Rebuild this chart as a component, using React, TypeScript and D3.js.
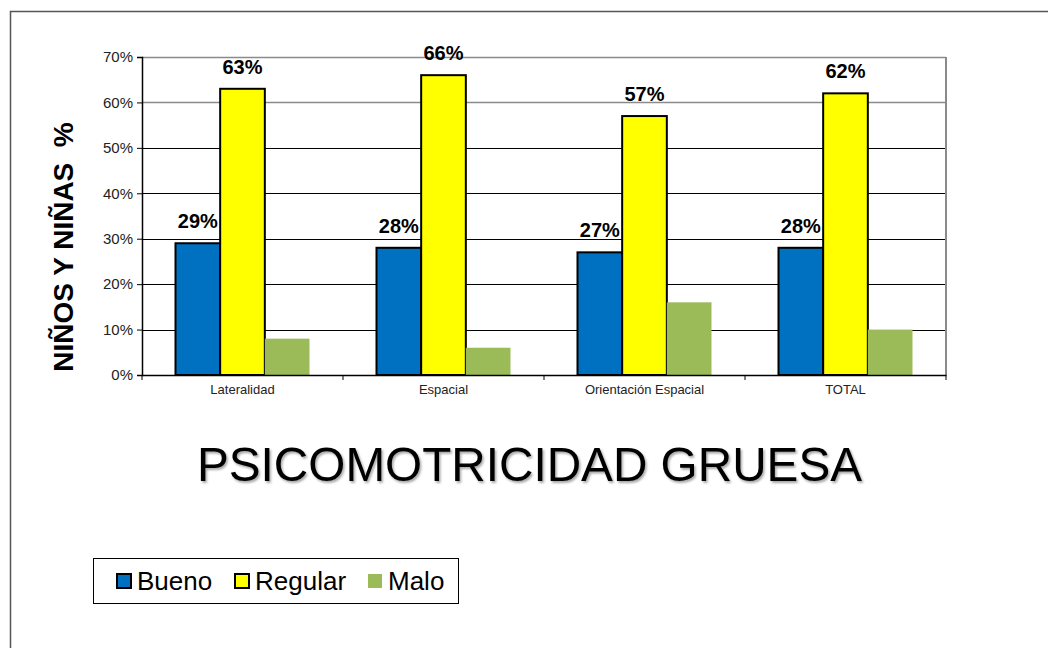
import { useEffect, useRef } from 'react'
import * as d3 from 'd3'

const categories = ['Lateralidad', 'Espacial', 'Orientación Espacial', 'TOTAL']
const seriesNames = ['Bueno', 'Regular', 'Malo']
const bueno = [0.29, 0.28, 0.27, 0.28]
const regular = [0.63, 0.66, 0.57, 0.62]
const malo = [0.08, 0.06, 0.16, 0.1]
const yTicks = [0, 0.1, 0.2, 0.3, 0.4, 0.5, 0.6, 0.7]
const colors = ['#0070C0', '#FFFF00', '#9BBB59']
const outlined = [true, true, false]
const labelled = [true, true, false]

export default function App() {
  const ref = useRef<SVGSVGElement>(null)

  useEffect(() => {
    const el = ref.current
    if (!el) return
    const svg = d3.select(el)
    svg.selectAll('*').remove()

    const W = 1048
    const H = 648
    const font = 'Arial, "Liberation Sans", sans-serif'

    const defs = svg.append('defs')
    const f = defs.append('filter').attr('id', 'tshadow')
      .attr('x', '-5%').attr('y', '-20%').attr('width', '110%').attr('height', '140%')
    f.append('feDropShadow')
      .attr('dx', 1.5).attr('dy', 2).attr('stdDeviation', 1.2)
      .attr('flood-color', '#000').attr('flood-opacity', 0.35)

    svg.append('rect').attr('width', W).attr('height', H).attr('fill', '#fff')
    // outer chart frame, runs off the right and bottom
    svg.append('rect')
      .attr('x', 10.5).attr('y', 11.5)
      .attr('width', W + 20).attr('height', H + 20)
      .attr('fill', 'none').attr('stroke', '#555').attr('stroke-width', 1.5)

    const left = 142
    const right = 946
    const top = 57
    const bottom = 375

    const x0 = d3.scaleBand<string>().domain(categories).range([left, right]).padding(0)
    const x1 = d3.scaleBand<string>().domain(seriesNames).range([0, x0.bandwidth()])
      .paddingInner(0).paddingOuter(0.75)
    const y = d3.scaleLinear().domain([0, 0.7]).range([bottom, top])

    const g = svg.append('g')

    // gridlines
    g.selectAll('line.grid')
      .data(yTicks.filter((d) => d > 0))
      .join('line')
      .attr('class', 'grid')
      .attr('x1', left).attr('x2', right)
      .attr('y1', (d) => Math.round(y(d)) + 0.5).attr('y2', (d) => Math.round(y(d)) + 0.5)
      .attr('stroke', (d) => (d >= 0.6 ? '#8a8a8a' : '#000'))
      .attr('stroke-width', (d) => (d >= 0.6 ? 1.5 : 1))

    // right border of plot area
    g.append('line')
      .attr('x1', right).attr('x2', right).attr('y1', top).attr('y2', bottom)
      .attr('stroke', '#8a8a8a').attr('stroke-width', 2)

    const vals = [bueno, regular, malo]
    const rows = categories.flatMap((c, i) =>
      seriesNames.map((s, k) => ({ c, s, k, v: vals[k][i] }))
    )

    g.selectAll('rect.bar')
      .data(rows)
      .join('rect')
      .attr('class', 'bar')
      .attr('x', (d) => (x0(d.c) ?? 0) + (x1(d.s) ?? 0))
      .attr('y', (d) => y(d.v))
      .attr('width', x1.bandwidth())
      .attr('height', (d) => bottom - y(d.v))
      .attr('fill', (d) => colors[d.k])
      .attr('stroke', (d) => (outlined[d.k] ? '#000' : 'none'))
      .attr('stroke-width', 2)

    g.selectAll('text.lbl')
      .data(rows.filter((d) => labelled[d.k]))
      .join('text')
      .attr('class', 'lbl')
      .attr('x', (d) => (x0(d.c) ?? 0) + (x1(d.s) ?? 0) + x1.bandwidth() / 2)
      .attr('y', (d) => y(d.v) - 15)
      .attr('text-anchor', 'middle')
      .attr('font-family', font)
      .attr('font-weight', 'bold')
      .attr('font-size', 20)
      .attr('fill', '#000')
      .text((d) => `${Math.round(d.v * 100)}%`)

    // y axis
    const yAxis = g.append('g')
      .attr('transform', `translate(${left},0)`)
      .call(d3.axisLeft(y).tickValues(yTicks).tickSize(5).tickPadding(4)
        .tickFormat((d) => `${Math.round(Number(d) * 100)}%`))
    yAxis.select('.domain').attr('stroke', '#000').attr('stroke-width', 1.5)
    yAxis.selectAll('.tick line').attr('stroke', '#000')
    yAxis.selectAll('text')
      .attr('font-family', font).attr('font-size', 15).attr('fill', '#222')

    // x axis
    const xAxis = g.append('g')
      .attr('transform', `translate(0,${bottom})`)
      .call(d3.axisBottom(x0).tickSize(0).tickPadding(10))
    xAxis.select('.domain').attr('stroke', '#000').attr('stroke-width', 1.5)
    xAxis.selectAll('text')
      .attr('font-family', font).attr('font-size', 13).attr('fill', '#222')
    xAxis.selectAll('line.sep')
      .data([left, ...categories.map((c) => (x0(c) ?? 0) + x0.bandwidth())])
      .join('line')
      .attr('class', 'sep')
      .attr('x1', (d) => d).attr('x2', (d) => d)
      .attr('y1', 0).attr('y2', 5)
      .attr('stroke', '#000')

    // y title
    svg.append('text')
      .attr('transform', `translate(73,247) rotate(-90)`)
      .attr('text-anchor', 'middle')
      .attr('font-family', font)
      .attr('font-weight', 'bold')
      .attr('font-size', 28)
      .attr('fill', '#000')
      .text('NIÑOS Y NIÑAS\u00a0\u00a0%')

    // chart title
    svg.append('text')
      .attr('x', 197).attr('y', 481)
      .attr('font-family', font).attr('font-size', 49)
      .attr('textLength', 665).attr('lengthAdjust', 'spacingAndGlyphs')
      .attr('fill', '#000')
      .attr('filter', 'url(#tshadow)')
      .text('PSICOMOTRICIDAD GRUESA')

    // legend
    const lg = svg.append('g')
    lg.append('rect')
      .attr('x', 93.5).attr('y', 558.5).attr('width', 365).attr('height', 45)
      .attr('fill', '#fff').attr('stroke', '#000').attr('stroke-width', 1)
    const legendX = [117, 235, 368]
    const items = lg.selectAll('g.item')
      .data(seriesNames)
      .join('g')
      .attr('class', 'item')
      .attr('transform', (_, i) => `translate(${legendX[i]},574)`)
    items.append('rect')
      .attr('width', 14).attr('height', 14)
      .attr('fill', (_, i) => colors[i])
      .attr('stroke', (_, i) => (outlined[i] ? '#000' : 'none'))
      .attr('stroke-width', 2)
    items.append('text')
      .attr('x', 20).attr('y', 16)
      .attr('font-family', font).attr('font-size', 26)
      .attr('fill', '#000')
      .text((d) => d)
  }, [])

  return (
    <svg
      ref={ref}
      width={1048}
      height={648}
      style={{ position: 'absolute', left: 0, top: 0, display: 'block' }}
    />
  )
}
